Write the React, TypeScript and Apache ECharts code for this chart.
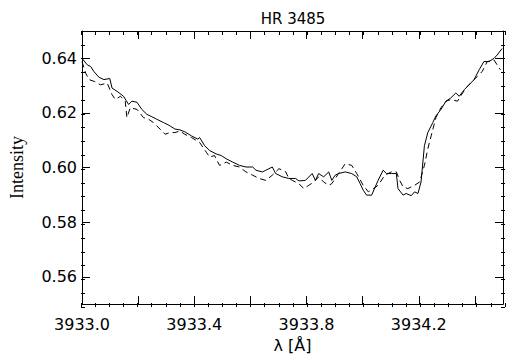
import React, { useEffect, useRef } from "react";
import * as echarts from "echarts";

const titleText = "HR 3485";
const xName = "λ [Å]";
const yName = "Intensity";

const solidWavelength = [
  3933.0, 3933.019, 3933.031, 3933.042, 3933.06, 3933.078, 3933.099, 3933.107, 3933.125, 3933.148,
  3933.166, 3933.178, 3933.196, 3933.213, 3933.231, 3933.249, 3933.266, 3933.29, 3933.313, 3933.331,
  3933.349, 3933.366, 3933.39, 3933.413, 3933.419, 3933.437, 3933.455, 3933.478, 3933.496, 3933.514,
  3933.537, 3933.561, 3933.584, 3933.608, 3933.62, 3933.643, 3933.655, 3933.678, 3933.69, 3933.714,
  3933.737, 3933.761, 3933.773, 3933.796, 3933.82, 3933.832, 3933.843, 3933.861, 3933.879, 3933.89,
  3933.902, 3933.914, 3933.938, 3933.961, 3933.979, 3933.991, 3934.002, 3934.014, 3934.032, 3934.055,
  3934.073, 3934.085, 3934.102, 3934.12, 3934.126, 3934.144, 3934.155, 3934.173, 3934.185, 3934.197,
  3934.208, 3934.22, 3934.232, 3934.25, 3934.261, 3934.279, 3934.297, 3934.314, 3934.332, 3934.344,
  3934.362, 3934.379, 3934.397, 3934.415, 3934.432, 3934.45, 3934.468, 3934.479, 3934.497,
];
const solidIntensity = [
  0.64, 0.6376, 0.637, 0.6352, 0.6331, 0.6322, 0.6326, 0.6291, 0.6279, 0.6261,
  0.6231, 0.6243, 0.6239, 0.6213, 0.6195, 0.6186, 0.6177, 0.6165, 0.6153, 0.6141,
  0.6138, 0.6131, 0.6116, 0.6104, 0.611, 0.608, 0.6062, 0.605, 0.6044, 0.6032,
  0.602, 0.6008, 0.6002, 0.6002, 0.599, 0.5984, 0.599, 0.6002, 0.5978, 0.5966,
  0.596, 0.596, 0.5951, 0.5953, 0.5978, 0.5953, 0.5978, 0.5966, 0.5984, 0.5953,
  0.5972, 0.5978, 0.5984, 0.5978, 0.5966, 0.5941, 0.5917, 0.5899, 0.5899, 0.5953,
  0.599, 0.5978, 0.5978, 0.5978, 0.5923, 0.5899, 0.5905, 0.5897, 0.5911, 0.5905,
  0.5947, 0.608, 0.6128, 0.6165, 0.6189, 0.6213, 0.6243, 0.6255, 0.6273, 0.6261,
  0.6285, 0.6303, 0.6322, 0.6358, 0.6388, 0.6388, 0.64, 0.6412, 0.6436,
];

const dashedWavelength = [
  3933.0, 3933.013, 3933.025, 3933.042, 3933.066, 3933.09, 3933.107, 3933.119, 3933.137, 3933.154,
  3933.16, 3933.172, 3933.196, 3933.219, 3933.237, 3933.254, 3933.278, 3933.296, 3933.313, 3933.331,
  3933.349, 3933.366, 3933.39, 3933.419, 3933.443, 3933.455, 3933.472, 3933.49, 3933.514, 3933.537,
  3933.561, 3933.584, 3933.608, 3933.631, 3933.655, 3933.678, 3933.702, 3933.726, 3933.737, 3933.749,
  3933.773, 3933.79, 3933.808, 3933.826, 3933.843, 3933.861, 3933.879, 3933.89, 3933.914, 3933.938,
  3933.961, 3933.979, 3934.002, 3934.02, 3934.038, 3934.055, 3934.079, 3934.102, 3934.12, 3934.132,
  3934.144, 3934.161, 3934.185, 3934.203, 3934.22, 3934.232, 3934.244, 3934.261, 3934.279, 3934.297,
  3934.314, 3934.338, 3934.356, 3934.373, 3934.391, 3934.409, 3934.426, 3934.444, 3934.468, 3934.479,
  3934.491,
];
const dashedIntensity = [
  0.6388, 0.6346, 0.6322, 0.6316, 0.6303, 0.6309, 0.6267, 0.6249, 0.6261, 0.6243,
  0.6183, 0.6219, 0.6213, 0.6183, 0.6177, 0.6165, 0.6141, 0.6122, 0.6128, 0.6128,
  0.6134, 0.6122, 0.611, 0.6092, 0.6056, 0.6038, 0.6044, 0.6008, 0.602, 0.6008,
  0.6002, 0.5984, 0.5972, 0.596, 0.5953, 0.5972, 0.5996, 0.5984, 0.596, 0.5953,
  0.5941, 0.5923, 0.5935, 0.5947, 0.5966, 0.5947, 0.5935, 0.5941, 0.5978, 0.6014,
  0.6008, 0.5978, 0.5935, 0.5911, 0.5923, 0.5935, 0.5972, 0.5984, 0.5984, 0.5953,
  0.5929, 0.5923, 0.5935, 0.5947, 0.6008, 0.6068, 0.6116, 0.6183, 0.6219, 0.6243,
  0.6249, 0.6243, 0.6273, 0.6297, 0.6316, 0.6334, 0.6352, 0.6388, 0.6394, 0.6376,
  0.6358,
];

const xMin = 3933.0;
const xMax = 3934.5;
const yMin = 0.55;
const yMax = 0.65;

const FONT = "DejaVu Sans";

export default function App() {
  const ref = useRef<HTMLDivElement>(null);
  useEffect(() => {
    if (!ref.current) return;
    const chart = echarts.init(ref.current, null, { renderer: "svg" });
    const axisLine = { show: true, lineStyle: { color: "#000", width: 1 } };
    const gridRect = { left: 81, right: 1, top: 31, bottom: 51 };
    const xLabelFmt = (v: number) => {
      const k = Math.round((v - 3933) * 10);
      if (Math.abs((v - 3933) * 10 - k) > 1e-6) return "";
      return k % 4 === 0 ? v.toFixed(1) : "";
    };
    const yLabelFmt = (v: number) => {
      const k = Math.round(v * 100);
      if (Math.abs(v * 100 - k) > 1e-6) return "";
      return k % 2 === 0 ? v.toFixed(2) : "";
    };
    const majorTick = { show: true, inside: true, length: 8, lineStyle: { color: "#000", width: 1 } };
    const minorTickAxis = { show: true, inside: true, length: 4, lineStyle: { color: "#000", width: 1 } };
    const solid = solidWavelength.map((x, i) => [x, solidIntensity[i]]);
    const dashed = dashedWavelength.map((x, i) => [x, dashedIntensity[i]]);
    chart.setOption({
      animation: false,
      backgroundColor: "#fff",
      grid: [
        { ...gridRect, containLabel: false },
        { ...gridRect, containLabel: false },
      ],
      xAxis: [
        {
          type: "value", gridIndex: 0, position: "bottom", min: xMin, max: xMax, interval: 0.2,
          axisLine, axisTick: majorTick, splitLine: { show: false },
          axisLabel: { formatter: xLabelFmt, color: "#000", fontFamily: FONT, fontSize: 16, margin: 12 },
          name: xName, nameLocation: "middle", nameGap: 26,
          nameTextStyle: { color: "#000", fontFamily: FONT, fontSize: 16 },
        },
        {
          type: "value", gridIndex: 0, position: "top", min: xMin, max: xMax, interval: 0.2,
          axisLine, axisTick: majorTick, splitLine: { show: false }, axisLabel: { show: false },
        },
        {
          type: "value", gridIndex: 1, position: "bottom", min: xMin, max: xMax, interval: 0.05,
          axisLine: { show: false }, axisTick: minorTickAxis, splitLine: { show: false }, axisLabel: { show: false },
        },
        {
          type: "value", gridIndex: 1, position: "top", min: xMin, max: xMax, interval: 0.05,
          axisLine: { show: false }, axisTick: minorTickAxis, splitLine: { show: false }, axisLabel: { show: false },
        },
      ],
      yAxis: [
        {
          type: "value", gridIndex: 0, position: "left", min: yMin, max: yMax, splitNumber: 5,
          axisLine, axisTick: majorTick, splitLine: { show: false },
          axisLabel: { formatter: yLabelFmt, color: "#000", fontFamily: FONT, fontSize: 16, margin: 5 },
          name: yName, nameLocation: "middle", nameGap: 56,
          nameTextStyle: { color: "#000", fontFamily: "Liberation Serif", fontSize: 18 },
        },
        {
          type: "value", gridIndex: 0, position: "right", min: yMin, max: yMax, splitNumber: 5,
          axisLine, axisTick: majorTick, splitLine: { show: false }, axisLabel: { show: false },
        },
        {
          type: "value", gridIndex: 1, position: "left", min: yMin, max: yMax, interval: 0.005,
          axisLine: { show: false }, axisTick: minorTickAxis, splitLine: { show: false }, axisLabel: { show: false },
        },
        {
          type: "value", gridIndex: 1, position: "right", min: yMin, max: yMax, interval: 0.005,
          axisLine: { show: false }, axisTick: minorTickAxis, splitLine: { show: false }, axisLabel: { show: false },
        },
      ],
      graphic: [
        {
          type: "text", x: 293, y: 19,
          style: { text: titleText, fill: "#000", font: `15px "${FONT}"`, textAlign: "center", textVerticalAlign: "middle" },
        },
      ],
      series: [
        {
          type: "line", xAxisIndex: 0, yAxisIndex: 0, data: solid, showSymbol: false,
          lineStyle: { color: "#000", width: 1 }, silent: true,
        },
        {
          type: "line", xAxisIndex: 0, yAxisIndex: 0, data: dashed, showSymbol: false,
          lineStyle: { color: "#000", width: 1, type: [6, 4] }, silent: true,
        },
      ],
    });
    return () => chart.dispose();
  }, []);
  return <div ref={ref} style={{ position: "absolute", left: 0, top: 0, width: 506, height: 358 }} />;
}
